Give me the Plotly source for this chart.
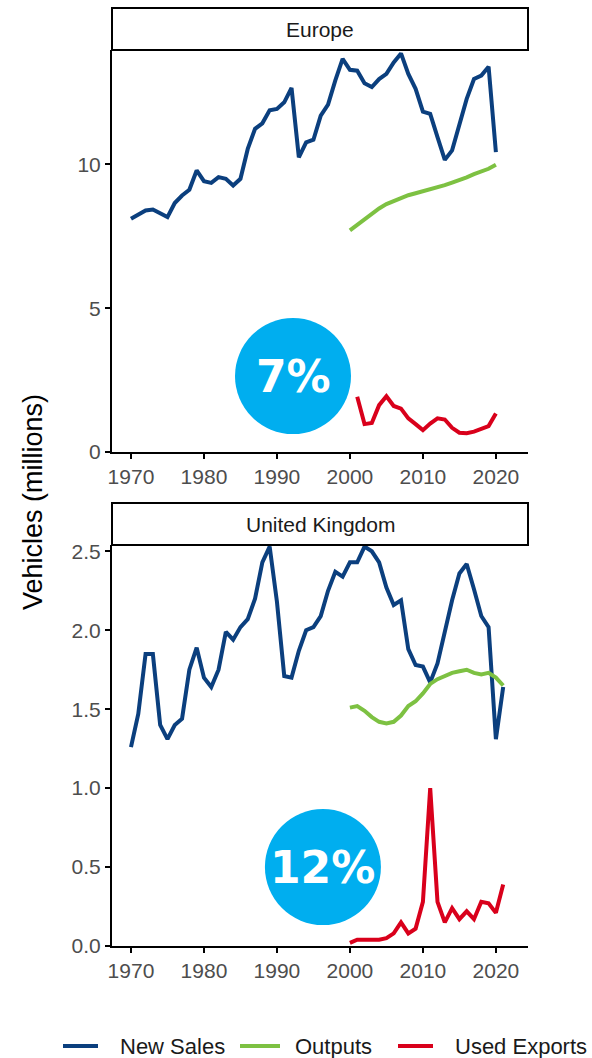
import plotly.graph_objects as go

# ---------------- data ----------------
eu_years = list(range(1970, 2021))
eu_new_sales = [8.11, 8.26, 8.40, 8.43, 8.29, 8.17, 8.66, 8.92, 9.12, 9.79,
                9.42, 9.36, 9.56, 9.50, 9.27, 9.50, 10.54, 11.24, 11.43, 11.88,
                11.93, 12.16, 12.66, 10.25, 10.77, 10.86, 11.70, 12.08, 12.92, 13.67,
                13.29, 13.26, 12.82, 12.69, 12.97, 13.15, 13.55, 13.86, 13.15, 12.63,
                11.84, 11.76, 10.95, 10.16, 10.49, 11.41, 12.28, 12.97, 13.09, 13.40,
                10.43]
eu_out_years = list(range(2000, 2021))
eu_outputs = [7.71, 7.90, 8.10, 8.29, 8.47, 8.62, 8.73, 8.84, 8.93, 9.00,
              9.07, 9.13, 9.19, 9.28, 9.37, 9.45, 9.55, 9.66, 9.76, 9.85, 9.99]
eu_exp_years = list(range(2001, 2021))
eu_used_exports = [1.92, 0.97, 1.01, 1.63, 1.94, 1.60, 1.51, 1.17, 0.97, 0.76,
                   0.99, 1.17, 1.13, 0.84, 0.67, 0.65, 0.71, 0.79, 0.90, 1.34]

uk_years = list(range(1970, 2022))
uk_new_sales = [1.26, 1.47, 1.85, 1.85, 1.40, 1.31, 1.40, 1.44, 1.75, 1.89,
                1.70, 1.64, 1.75, 1.99, 1.94, 2.02, 2.07, 2.20, 2.43, 2.53,
                2.18, 1.71, 1.70, 1.87, 2.00, 2.02, 2.09, 2.25, 2.37, 2.34,
                2.43, 2.43, 2.53, 2.50, 2.43, 2.27, 2.16, 2.19, 1.88, 1.78,
                1.77, 1.67, 1.79, 2.00, 2.19, 2.36, 2.42, 2.26, 2.09, 2.02,
                1.31, 1.64]
uk_out_years = list(range(2000, 2022))
uk_outputs = [1.51, 1.52, 1.49, 1.45, 1.42, 1.41, 1.42, 1.46, 1.52, 1.55,
              1.60, 1.66, 1.69, 1.71, 1.73, 1.74, 1.75, 1.73, 1.72, 1.73,
              1.70, 1.65]
uk_exp_years = list(range(2000, 2022))
uk_used_exports = [0.02, 0.04, 0.04, 0.04, 0.04, 0.05, 0.08, 0.15, 0.08, 0.11,
                   0.28, 1.00, 0.28, 0.15, 0.24, 0.17, 0.22, 0.17, 0.28, 0.27,
                   0.21, 0.39]

panel_titles = ["Europe", "United Kingdom"]
share_labels = ["7%", "12%"]
series_names = ["New Sales", "Outputs", "Used Exports"]
x_ticks = [1970, 1980, 1990, 2000, 2010, 2020]
eu_y_ticks = [0, 5, 10]
uk_y_ticks = [0.0, 0.5, 1.0, 1.5, 2.0, 2.5]

# ---------------- style ----------------
C_NEW = "#0B3F7E"
C_OUT = "#7DC142"
C_EXP = "#D9001B"
C_BUB = "#00AEEF"
FONT = "Liberation Sans, Arial, sans-serif"
TICK_FONT = dict(family=FONT, size=21, color="#4D4D4D")
LW = 4

W, H = 592, 1058
ML, MR, MT, MB = 112, 64, 50, 112
PH = H - MT - MB
PW = W - ML - MR


def py(pix):  # pixel y -> paper y
    return (H - MB - pix) / PH


def px(pix):  # pixel x -> paper x
    return (pix - ML) / PW


fig = go.Figure()

colors = [C_NEW, C_OUT, C_EXP]
eu_data = [(eu_years, eu_new_sales), (eu_out_years, eu_outputs), (eu_exp_years, eu_used_exports)]
uk_data = [(uk_years, uk_new_sales), (uk_out_years, uk_outputs), (uk_exp_years, uk_used_exports)]
for name, col, (ex, ey), (ux, uy) in zip(series_names, colors, eu_data, uk_data):
    fig.add_trace(go.Scatter(x=ex, y=ey, mode="lines", name=name,
                             line=dict(color=col, width=LW), xaxis="x", yaxis="y",
                             legendgroup=name, showlegend=False))
    fig.add_trace(go.Scatter(x=ux, y=uy, mode="lines", name=name,
                             line=dict(color=col, width=LW), xaxis="x2", yaxis="y2",
                             legendgroup=name, showlegend=False))

xcommon = dict(range=[1967.4, 2024.4], tickvals=x_ticks, showline=True, linecolor="black",
               linewidth=2, ticks="outside", ticklen=5, tickwidth=2, tickcolor="black",
               showgrid=False, zeroline=False, tickfont=TICK_FONT)
ycommon = dict(showline=True, linecolor="black", linewidth=2, ticks="outside", ticklen=5,
               tickwidth=2, tickcolor="black", showgrid=False, zeroline=False,
               tickfont=TICK_FONT)

top_dom = [py(452), 1.0]
bot_dom = [0.0, py(545)]

fig.update_layout(
    width=W, height=H,
    margin=dict(l=ML, r=MR, t=MT, b=MB, autoexpand=False),
    paper_bgcolor="white", plot_bgcolor="white",
    xaxis=dict(domain=[0, 1], anchor="y", **xcommon),
    yaxis=dict(domain=top_dom, anchor="x", range=[0, 13.98], tickvals=eu_y_ticks, **ycommon),
    xaxis2=dict(domain=[0, 1], anchor="y2", **xcommon),
    yaxis2=dict(domain=bot_dom, anchor="x2", range=[0, 2.54], tickvals=uk_y_ticks,
                tickformat=".1f", **ycommon),
    showlegend=False,
)

# strips
strips = [(8, 50), (503, 545)]
for (t, b), title in zip(strips, panel_titles):
    fig.add_shape(type="rect", xref="paper", yref="paper", x0=0, x1=1, y0=py(b), y1=py(t),
                  line=dict(color="black", width=2), fillcolor="white", layer="above")
    fig.add_annotation(xref="paper", yref="paper", x=0.5, y=py((t + b) / 2), text=title,
                       showarrow=False, font=dict(family=FONT, size=21, color="#1A1A1A"),
                       xanchor="center", yanchor="middle")

# share bubbles
bubbles = [("x", "y", 1992.2, 2.64), ("x2", "y2", 1996.3, 0.50)]
R = 58
for (xr, yr, cx, cy), lab in zip(bubbles, share_labels):
    fig.add_shape(type="circle", xref=xr, yref=yr, xsizemode="pixel", ysizemode="pixel",
                  xanchor=cx, yanchor=cy, x0=-R, x1=R, y0=-R, y1=R,
                  fillcolor=C_BUB, line=dict(width=0), layer="above")
    fig.add_annotation(xref=xr, yref=yr, x=cx, y=cy, text="<b>%s</b>" % lab, showarrow=False,
                       font=dict(family="DejaVu Sans, Verdana, sans-serif", size=44, color="white"),
                       xanchor="center", yanchor="middle")

# y-axis title
fig.add_annotation(xref="paper", yref="paper", x=px(33), y=py(502), text="Vehicles (millions)",
                   textangle=-90, showarrow=False, xanchor="center", yanchor="middle",
                   font=dict(family=FONT, size=27, color="black"))

# legend (key lines + labels)
leg_y = py(1046)
leg_lines = [(63, 98), (240, 280), (398, 433)]
leg_text_x = [118, 293, 453]
for name, col, (l0, l1), tx in zip(series_names, colors, leg_lines, leg_text_x):
    fig.add_shape(type="line", xref="paper", yref="paper", x0=px(l0), x1=px(l1),
                  y0=leg_y, y1=leg_y, line=dict(color=col, width=LW))
    fig.add_annotation(xref="paper", yref="paper", x=px(tx), y=leg_y, text=name,
                       showarrow=False, xanchor="left", yanchor="middle",
                       font=dict(family=FONT, size=22, color="#1A1A1A"))

fig.write_html("out.html", config={"displayModeBar": False},
               post_script="document.body.style.margin='0';document.body.style.overflow='hidden';")
